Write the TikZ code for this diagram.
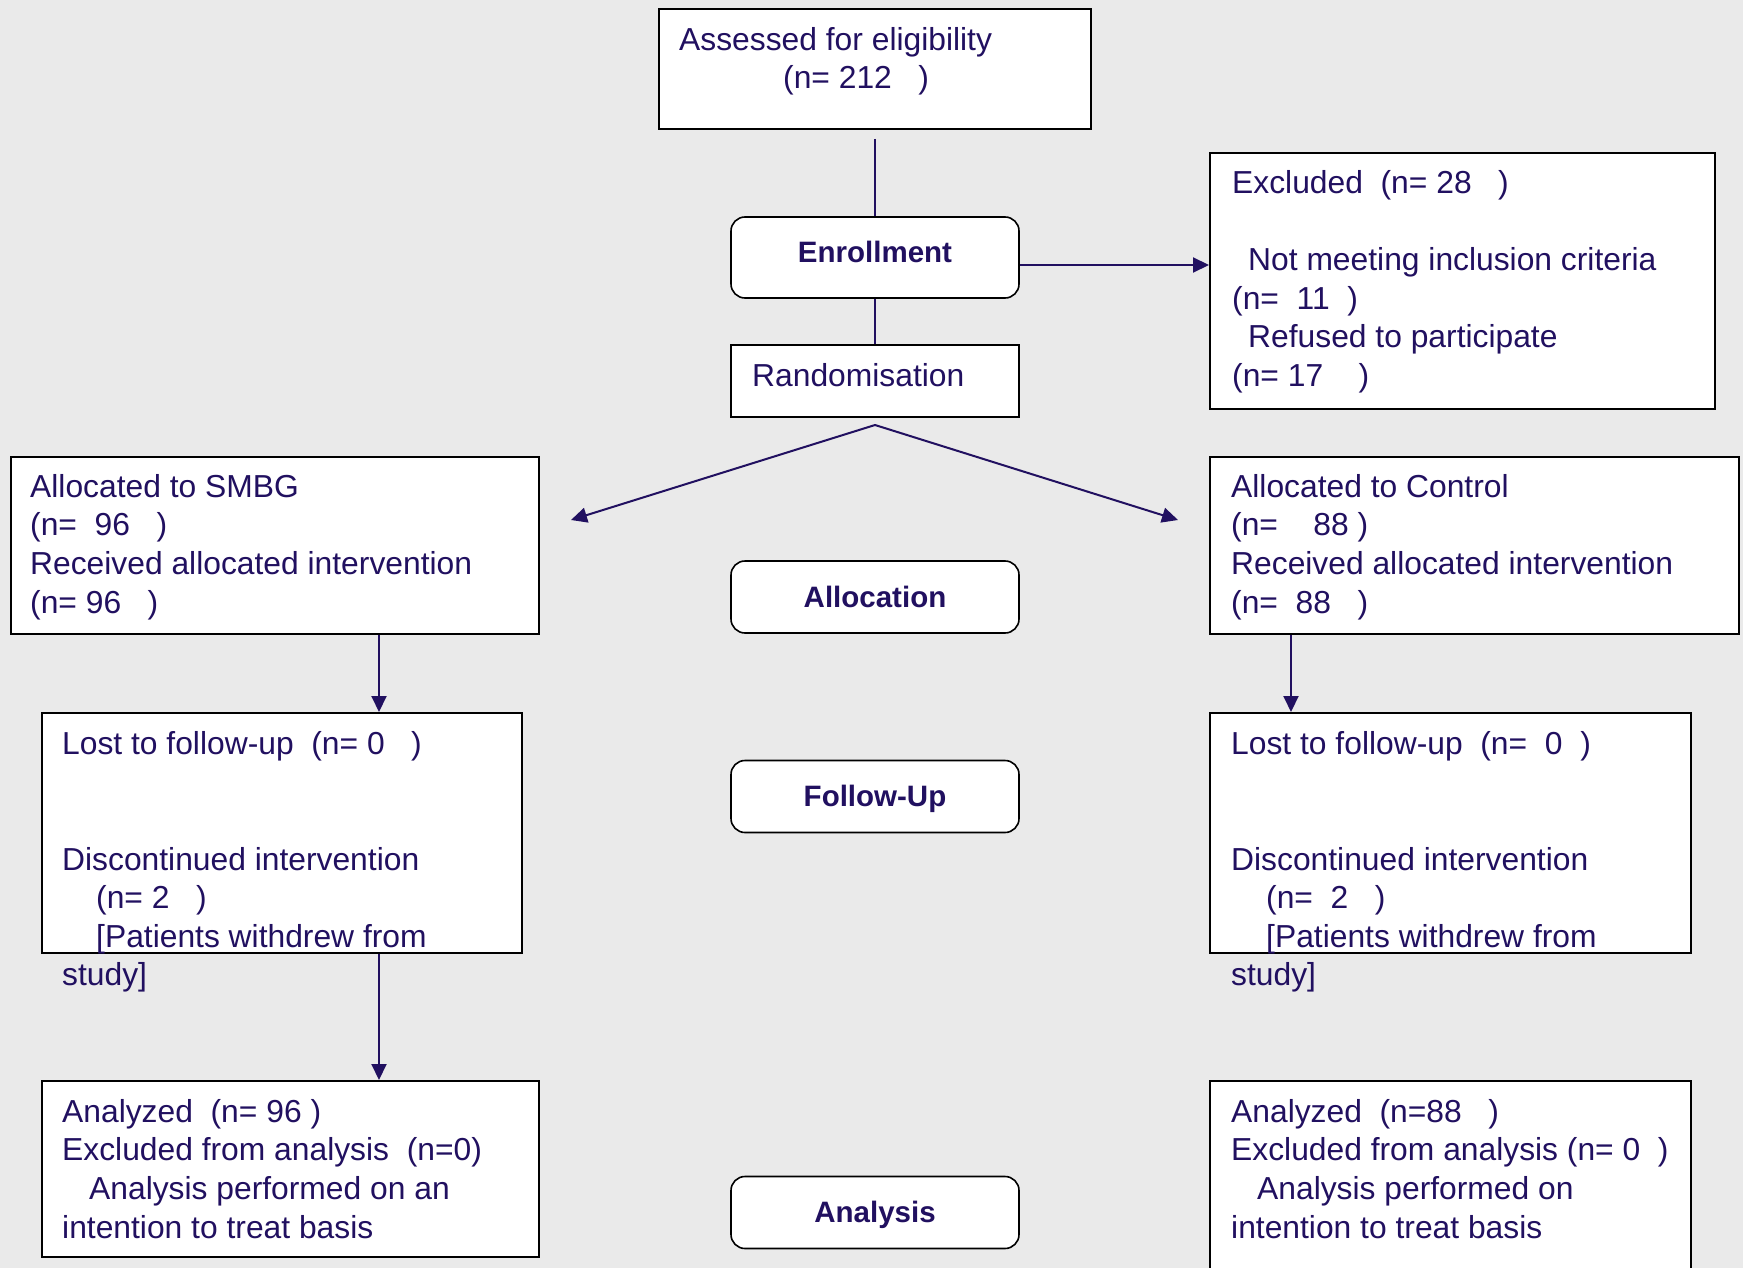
\documentclass[tikz,border=0pt]{standalone}
\usepackage{fontspec}
\setmainfont{Liberation Sans}
\usetikzlibrary{arrows.meta}
\definecolor{ink}{RGB}{33,16,96}
\definecolor{bg}{RGB}{234,234,234}
\newcommand\mystrut{\rule{0pt}{27pt}}
\begin{document}
\begin{tikzpicture}[x=1pt,y=-1pt,
  box/.style={draw=black,line width=2pt,fill=white,inner sep=0pt,rectangle},
  stage/.style={draw=black,line width=1.6pt,fill=white,rounded corners=14pt,
    minimum width=288pt,minimum height=72pt,inner sep=0pt,text=ink,
    font=\fontsize{29.5}{34}\selectfont\bfseries,text height=20pt,text depth=0pt},
  txt/.style={anchor=north west,inner sep=0pt,align=left,text=ink,
    font=\fontsize{31.8}{38.6}\selectfont},
  conn/.style={draw=ink,line width=2pt},
  arr/.style={conn,-{Triangle[length=16pt,width=15pt]}}
]
\useasboundingbox[fill=bg] (0,0) rectangle (1743,1268);

% boxes
\node[box,minimum width=432pt,minimum height=120pt] (top) at (875,69) {};
\node[box,minimum width=288pt,minimum height=72pt] (rand) at (875,381) {};
\node[box,minimum width=505pt,minimum height=256pt] (excl) at (1462.5,281) {};
\node[box,minimum width=528pt,minimum height=177pt] (smbg) at (275,545.5) {};
\node[box,minimum width=529pt,minimum height=177pt] (ctrl) at (1474.5,545.5) {};
\node[box,minimum width=480pt,minimum height=240pt] (lostL) at (282,833) {};
\node[box,minimum width=481pt,minimum height=240pt] (lostR) at (1450.5,833) {};
\node[box,minimum width=497pt,minimum height=176pt] (anL) at (290.5,1169) {};
\node[box,minimum width=481pt,minimum height=209pt] (anR) at (1450.5,1185.5) {};

% stage labels
\node[stage,minimum height=81pt,text depth=11pt] (enr) at (875,257.5) {Enrollment};
\node[stage] (alloc) at (875,597) {Allocation};
\node[stage] (fup) at (875,796.5) {Follow-Up};
\node[stage] (anal) at (875,1212.5) {Analysis};

% texts
\node[txt] (tTop) at (679,23) {\mystrut Assessed for eligibility\\\hspace*{104pt}(n=~212~~~)};
\node[txt] (tRand) at (752,359) {\mystrut Randomisation};
\node[txt] (tExcl) at (1232,166) {\mystrut Excluded~~(n=~28~~~)\\\mbox{}\\\hspace*{16pt}Not meeting inclusion criteria\\(n=~~11~~)\\\hspace*{16pt}Refused to participate\\(n=~17~~~~)};
\node[txt] (tSmbg) at (30,470) {\mystrut Allocated to SMBG\\(n=~~96~~~)\\Received allocated intervention\\(n=~96~~~)};
\node[txt] (tCtrl) at (1231,470) {\mystrut Allocated to Control\\(n=~~~~88~)\\Received allocated intervention\\(n=~~88~~~)};
\node[txt] (tLostL) at (62,727) {\mystrut Lost to follow-up~~(n=~0~~~)\\\mbox{}\\\mbox{}\\Discontinued intervention\\\hspace*{34pt}(n=~2~~~)\\\hspace*{34pt}[Patients withdrew from\\study]};
\node[txt] (tLostR) at (1231,727) {\mystrut Lost to follow-up~~(n=~~0~~)\\\mbox{}\\\mbox{}\\Discontinued intervention\\\hspace*{35pt}(n=~~2~~~)\\\hspace*{35pt}[Patients withdrew from\\study]};
\node[txt] (tAnL) at (62,1095) {\mystrut Analyzed~~(n=~96~)\\Excluded from analysis~~(n=0)\\\hspace*{27pt}Analysis performed on an\\intention to treat basis};
\node[txt] (tAnR) at (1231,1095) {\mystrut Analyzed~~(n=88~~~)\\Excluded from analysis (n=~0~~)\\\hspace*{26pt}Analysis performed on\\intention to treat basis};

% connectors
\coordinate (apex) at (875,425);
\coordinate (aL) at (571,520);
\coordinate (aR) at (1178,520);
\draw[conn] ([yshift=-9pt]top.south) -- (enr.north);
\draw[conn] (enr.south) -- (rand.north);
\draw[arr] (enr.east |- 0,265) -- (excl.west |- 0,265);
\draw[arr] (apex) -- (aL);
\draw[arr] (apex) -- (aR);
\draw[arr] (smbg.south -| 379,0) -- (lostL.north -| 379,0);
\draw[arr] (ctrl.south -| 1291,0) -- (lostR.north -| 1291,0);
\draw[arr] (lostL.south -| 379,0) -- (anL.north -| 379,0);
\end{tikzpicture}
\end{document}
